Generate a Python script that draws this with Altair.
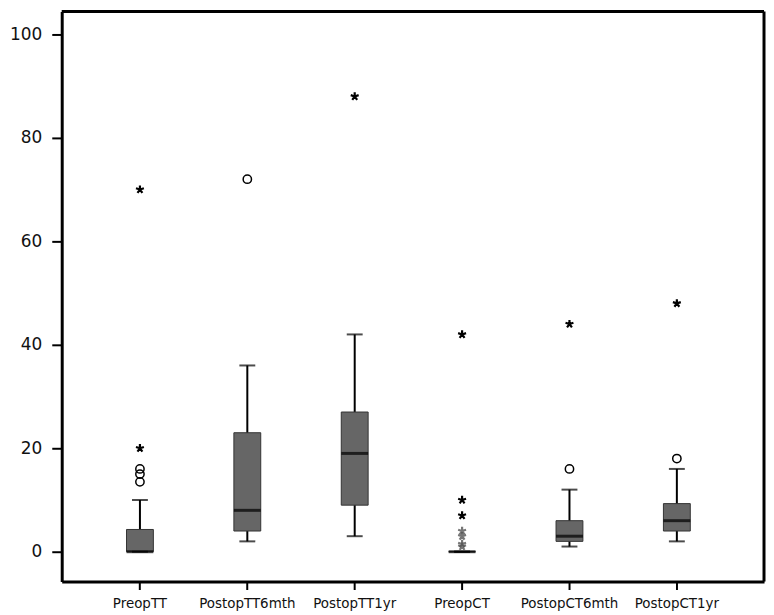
import altair as alt
import pandas as pd

categories = ["PreopTT", "PostopTT6mth", "PostopTT1yr", "PreopCT", "PostopCT6mth", "PostopCT1yr"]
whisker_low = [0, 2, 3, 0, 1, 2]
q1 = [0, 4, 9, 0, 2, 4]
median = [0, 8, 19, 0, 3, 6]
q3 = [4.3, 23, 27, 0, 6, 9.3]
whisker_high = [10, 36, 42, 0, 12, 16]

outlier_cat = ["PreopTT", "PreopTT", "PreopTT", "PostopTT6mth", "PostopCT6mth", "PostopCT1yr"]
outlier_val = [13.5, 15, 16, 72, 16, 18]

extreme_cat = ["PreopTT", "PreopTT", "PostopTT1yr", "PreopCT", "PreopCT", "PreopCT",
               "PostopCT6mth", "PostopCT1yr"]
extreme_val = [20, 70, 88, 42, 10, 7, 44, 48]

faint_cat = ["PreopCT", "PreopCT", "PreopCT", "PreopCT"]
faint_val = [4, 3, 1.5, 1]

y_ticks = [0, 20, 40, 60, 80, 100]

boxes = pd.DataFrame({"cat": categories, "lo": whisker_low, "q1": q1, "med": median,
                      "q3": q3, "hi": whisker_high})
outliers = pd.DataFrame({"cat": outlier_cat, "v": outlier_val})
extremes = pd.DataFrame({"cat": extreme_cat, "v": extreme_val})
faint = pd.DataFrame({"cat": faint_cat, "v": faint_val})

W, H = 706, 573

xscale = alt.Scale(domain=categories, paddingInner=0.5, paddingOuter=0.52, align=0.46)
yscale = alt.Scale(domain=[-5.77, 104.4], nice=False, zero=False)

xenc = alt.X("cat:N", scale=xscale, sort=categories, title=None,
             axis=alt.Axis(labelAngle=0, labelFont="DejaVu Sans", labelFontSize=13.5,
                           labelColor="#111", labelPadding=7, tickSize=8, tickWidth=2,
                           tickColor="black", domainColor="black", domainWidth=3))
yaxis = alt.Axis(values=y_ticks, labelFont="DejaVu Sans", labelFontSize=17, labelColor="#111",
                 tickSize=10, tickWidth=2, tickColor="black", domainColor="black",
                 domainWidth=3, grid=False, labelPadding=10)

base = alt.Chart(boxes)

whisk = base.mark_rule(color="black", strokeWidth=2).encode(
    x=xenc, y=alt.Y("lo:Q", scale=yscale, axis=yaxis, title=None), y2="hi:Q")

box = base.mark_bar(size=27, color="#666666", stroke="#333333", strokeWidth=1).encode(
    x=alt.X("cat:N", scale=xscale, sort=categories),
    y=alt.Y("q1:Q", scale=yscale), y2="q3:Q")

cap_lo = base.mark_tick(color="black", size=16, thickness=2).encode(
    x=alt.X("cat:N", scale=xscale, sort=categories), y=alt.Y("lo:Q", scale=yscale))
cap_hi = base.mark_tick(color="black", size=16, thickness=2).encode(
    x=alt.X("cat:N", scale=xscale, sort=categories), y=alt.Y("hi:Q", scale=yscale))
med = base.mark_tick(color="black", size=27, thickness=3).encode(
    x=alt.X("cat:N", scale=xscale, sort=categories), y=alt.Y("med:Q", scale=yscale))

circ = alt.Chart(outliers).mark_point(shape="circle", filled=False, color="black",
                                      strokeWidth=1.5, size=70, opacity=1).encode(
    x=alt.X("cat:N", scale=xscale, sort=categories), y=alt.Y("v:Q", scale=yscale))

star_path = ("M0,0L0,-1M0,0L0.951,-0.309M0,0L0.588,0.809M0,0L-0.588,0.809"
             "M0,0L-0.951,-0.309")
stars = alt.Chart(extremes).mark_point(shape=star_path, filled=False, color="black",
                                       strokeWidth=2.2, size=70, opacity=1).encode(
    x=alt.X("cat:N", scale=xscale, sort=categories), y=alt.Y("v:Q", scale=yscale))
fstars = alt.Chart(faint).mark_point(shape=star_path, filled=False, color="#555555",
                                     strokeWidth=2.2, size=70, opacity=0.8).encode(
    x=alt.X("cat:N", scale=xscale, sort=categories), y=alt.Y("v:Q", scale=yscale))

frame_df = pd.DataFrame({"k": [0]})
frame_top = alt.Chart(frame_df).mark_rule(color="black", strokeWidth=3).encode(
    x=alt.value(0), x2=alt.value(W), y=alt.value(0))
frame_right = alt.Chart(frame_df).mark_rule(color="black", strokeWidth=3).encode(
    x=alt.value(W), y=alt.value(0), y2=alt.value(H))

chart = alt.layer(whisk, box, cap_lo, cap_hi, med, circ, stars, fstars,
                  frame_top, frame_right).properties(
    width=W, height=H,
    autosize=alt.AutoSizeParams(type="none"),
    padding={"left": 54, "top": 2, "right": 2, "bottom": 30},
).configure_view(strokeWidth=0).configure(background="white")

chart.save("out.html", embed_options={"renderer": "svg", "actions": False})
